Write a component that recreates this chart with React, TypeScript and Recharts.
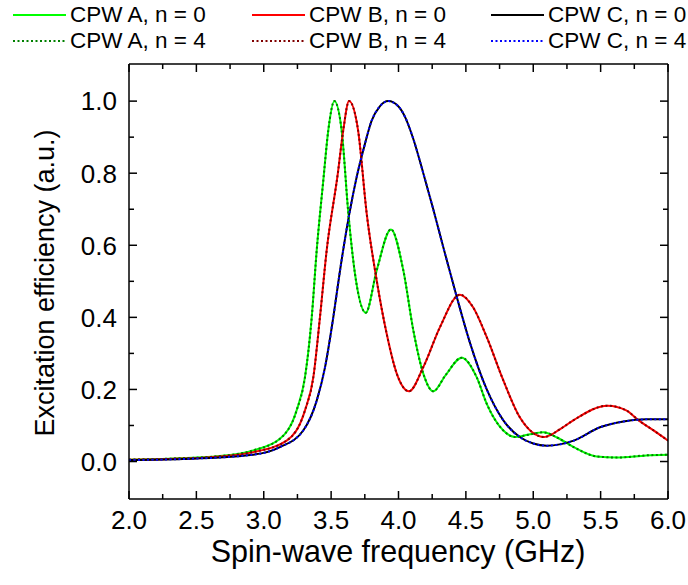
import { LineChart, Line, XAxis, YAxis } from 'recharts';

// CPW A
const freqA = [2.0, 2.3, 2.675, 2.922, 3.12, 3.244, 3.306, 3.356, 3.393, 3.442, 3.479, 3.524, 3.578, 3.628, 3.677, 3.757, 3.838, 3.944, 4.036, 4.11, 4.184, 4.258, 4.35, 4.469, 4.58, 4.655, 4.778, 4.865, 4.96, 5.075, 5.18, 5.3, 5.47, 5.62, 5.84, 6.0];
const effA = [0.005, 0.008, 0.015, 0.031, 0.063, 0.142, 0.234, 0.4, 0.586, 0.78, 0.919, 1.0, 0.919, 0.688, 0.521, 0.413, 0.53, 0.644, 0.53, 0.364, 0.244, 0.195, 0.24, 0.288, 0.234, 0.16, 0.086, 0.068, 0.074, 0.081, 0.066, 0.04, 0.014, 0.011, 0.017, 0.019];

// CPW B
const freqB = [2.0, 2.3, 2.6, 2.922, 3.17, 3.306, 3.368, 3.417, 3.467, 3.55, 3.59, 3.633, 3.7, 3.764, 3.838, 3.912, 3.987, 4.078, 4.184, 4.308, 4.456, 4.55, 4.655, 4.778, 4.9, 5.082, 5.2, 5.3, 5.552, 5.69, 5.79, 5.89, 6.0];
const effB = [0.005, 0.007, 0.012, 0.026, 0.058, 0.142, 0.234, 0.4, 0.586, 0.8, 0.919, 1.0, 0.919, 0.688, 0.503, 0.355, 0.244, 0.195, 0.262, 0.373, 0.463, 0.43, 0.345, 0.225, 0.123, 0.068, 0.09, 0.115, 0.155, 0.142, 0.112, 0.087, 0.058];

// CPW C
const freqC = [2.0, 2.4, 2.922, 3.12, 3.293, 3.393, 3.455, 3.516, 3.566, 3.633, 3.69, 3.75, 3.8, 3.86, 3.924, 4.0, 4.05, 4.11, 4.184, 4.258, 4.332, 4.43, 4.53, 4.655, 4.778, 4.9, 5.0, 5.1, 5.3, 5.495, 5.67, 5.84, 6.0];
const effC = [0.004, 0.007, 0.019, 0.04, 0.086, 0.169, 0.262, 0.4, 0.53, 0.683, 0.79, 0.88, 0.945, 0.985, 1.0, 0.985, 0.955, 0.895, 0.8, 0.7, 0.595, 0.46, 0.33, 0.2, 0.114, 0.068, 0.05, 0.044, 0.058, 0.095, 0.111, 0.117, 0.117];

const xTicks = [2.0, 2.25, 2.5, 2.75, 3.0, 3.25, 3.5, 3.75, 4.0, 4.25, 4.5, 4.75, 5.0, 5.25, 5.5, 5.75, 6.0];
const yTicks = [0.0, 0.1, 0.2, 0.3, 0.4, 0.5, 0.6, 0.7, 0.8, 0.9, 1.0];

const zip = (fs: number[], vs: number[]) => fs.map((f, i) => ({ f, v: vs[i] }));
const dataA = zip(freqA, effA);
const dataB = zip(freqB, effB);
const dataC = zip(freqC, effC);

const series = [
  { name: 'CPW A, n = 0', data: dataA, color: '#00ff00', dash: undefined },
  { name: 'CPW B, n = 0', data: dataB, color: '#ff0000', dash: undefined },
  { name: 'CPW C, n = 0', data: dataC, color: '#000000', dash: undefined },
  { name: 'CPW A, n = 4', data: dataA, color: '#008000', dash: '2 2.5' },
  { name: 'CPW B, n = 4', data: dataB, color: '#800000', dash: '2 2.5' },
  { name: 'CPW C, n = 4', data: dataC, color: '#0000ff', dash: '2 2.5' },
];

const FONT = '"Liberation Sans", Arial, sans-serif';
const isMajorX = (v: number) => Math.abs(v * 2 - Math.round(v * 2)) < 1e-6;
const isMajorY = (v: number) => Math.abs(v * 5 - Math.round(v * 5)) < 1e-6;

const BottomTick = (props: any) => {
  const { x, y, payload } = props;
  const major = isMajorX(payload.value);
  return (
    <g>
      <line x1={x} x2={x} y1={y} y2={y - (major ? 8 : 5)} stroke="#000" strokeWidth={1.5} />
      {major && (
        <text x={x} y={y + 30} textAnchor="middle" fontSize={26} fontFamily={FONT} fill="#000">
          {payload.value.toFixed(1)}
        </text>
      )}
    </g>
  );
};

const TopTick = (props: any) => {
  const { x, y, payload } = props;
  const major = isMajorX(payload.value);
  return <line x1={x} x2={x} y1={y} y2={y + (major ? 8 : 5)} stroke="#000" strokeWidth={1.5} />;
};

const LeftTick = (props: any) => {
  const { x, y, payload } = props;
  const major = isMajorY(payload.value);
  return (
    <g>
      <line x1={x} x2={x + (major ? 8 : 5)} y1={y} y2={y} stroke="#000" strokeWidth={1.5} />
      {major && (
        <text x={x - 12} y={y} dy="0.36em" textAnchor="end" fontSize={26} fontFamily={FONT} fill="#000">
          {payload.value.toFixed(1)}
        </text>
      )}
    </g>
  );
};

const RightTick = (props: any) => {
  const { x, y, payload } = props;
  const major = isMajorY(payload.value);
  return <line x1={x} x2={x - (major ? 8 : 5)} y1={y} y2={y} stroke="#000" strokeWidth={1.5} />;
};

const legendPos = [
  { left: 13, top: 15 },
  { left: 252, top: 15 },
  { left: 491, top: 15 },
  { left: 13, top: 41 },
  { left: 252, top: 41 },
  { left: 491, top: 41 },
];

const axisLine = { stroke: '#000', strokeWidth: 1.5 };

export default function App() {
  return (
    <div style={{ position: 'absolute', left: 0, top: 0, width: 688, height: 585, background: '#fff', fontFamily: FONT }}>
      <LineChart width={688} height={585} data={dataA} margin={{ top: 54, right: 10, bottom: 56, left: 69 }}>
        <XAxis
          xAxisId="b"
          dataKey="f"
          type="number"
          domain={[2, 6]}
          ticks={xTicks}
          allowDataOverflow
          height={30}
          tickSize={0}
          tickMargin={0}
          tickLine={false}
          tick={<BottomTick />}
          axisLine={axisLine}
          interval={0}
        />
        <XAxis
          xAxisId="t"
          orientation="top"
          dataKey="f"
          type="number"
          domain={[2, 6]}
          ticks={xTicks}
          allowDataOverflow
          height={10}
          tickSize={0}
          tickMargin={0}
          tickLine={false}
          tick={<TopTick />}
          axisLine={axisLine}
          interval={0}
        />
        <YAxis
          yAxisId="l"
          type="number"
          domain={[-0.104, 1.103]}
          ticks={yTicks}
          allowDataOverflow
          width={60}
          tickSize={0}
          tickMargin={0}
          tickLine={false}
          tick={<LeftTick />}
          axisLine={axisLine}
          interval={0}
        />
        <YAxis
          yAxisId="r"
          orientation="right"
          type="number"
          domain={[-0.104, 1.103]}
          ticks={yTicks}
          allowDataOverflow
          width={10}
          tickSize={0}
          tickMargin={0}
          tickLine={false}
          tick={<RightTick />}
          axisLine={axisLine}
          interval={0}
        />
        {series.map((s) => (
          <Line
            key={s.name}
            xAxisId="b"
            yAxisId="l"
            data={s.data}
            dataKey="v"
            name={s.name}
            type="monotone"
            stroke={s.color}
            strokeWidth={2}
            strokeDasharray={s.dash}
            dot={false}
            activeDot={false}
            isAnimationActive={false}
          />
        ))}
      </LineChart>

      {series.map((s, i) => (
        <div
          key={s.name}
          style={{ position: 'absolute', left: legendPos[i].left, top: legendPos[i].top - 14, height: 28, display: 'flex', alignItems: 'center', whiteSpace: 'nowrap' }}
        >
          <svg width={53} height={4} style={{ marginRight: 4 }}>
            <line x1={0} x2={53} y1={2} y2={2} stroke={s.color} strokeWidth={2} strokeDasharray={s.dash} />
          </svg>
          <span style={{ fontSize: 22.5, color: '#000' }}>{s.name}</span>
        </div>
      ))}

      <div style={{ position: 'absolute', left: 98, width: 600, top: 534, textAlign: 'center', fontSize: 30.5, color: '#000', whiteSpace: 'nowrap' }}>
        Spin-wave frequency (GHz)
      </div>
      <div
        style={{
          position: 'absolute',
          left: 45,
          top: 283,
          transform: 'translate(-50%, -50%) rotate(-90deg)',
          fontSize: 27,
          whiteSpace: 'nowrap',
          color: '#000',
        }}
      >
        Excitation efficiency (a.u.)
      </div>
    </div>
  );
}
